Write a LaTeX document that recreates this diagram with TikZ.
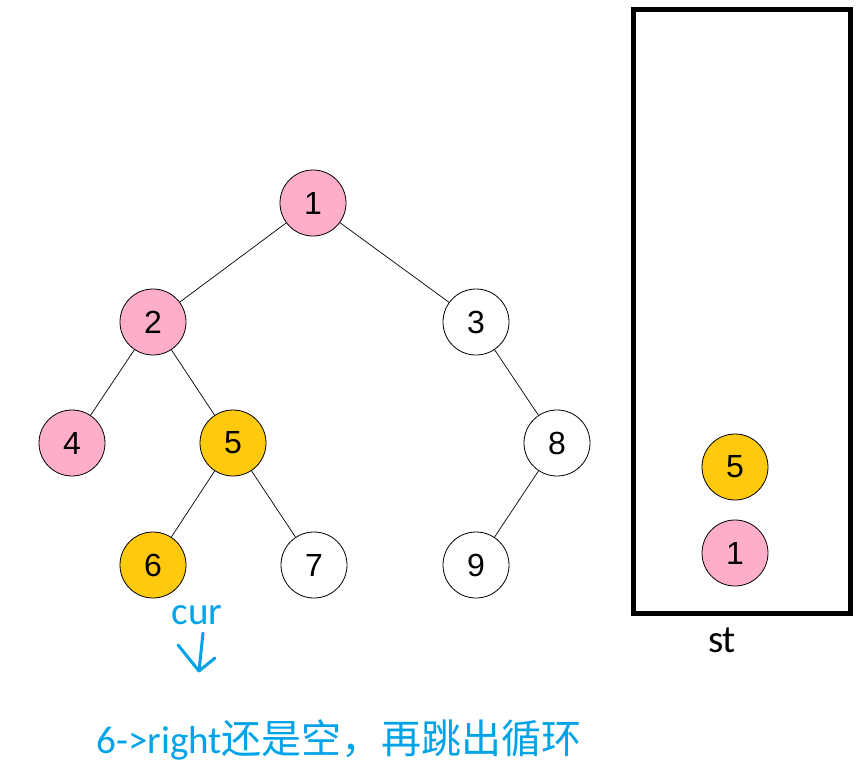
\documentclass[tikz,border=0pt]{standalone}
\usepackage{fontspec}
\setmainfont{Liberation Sans}
\newfontfamily\cali{Carlito}
\newfontfamily\cjk{Noto Sans CJK SC}
\definecolor{pinknode}{RGB}{255,174,201}
\definecolor{goldnode}{RGB}{255,201,14}
\definecolor{noteblue}{RGB}{0,162,232}
\tikzset{
  vertex/.style = {circle, draw, line width=0.8pt, minimum size=66pt, inner sep=0pt,
                   font=\fontsize{32}{32}\selectfont},
  visited/.style = {vertex, fill=pinknode},
  current/.style = {vertex, fill=goldnode},
  fresh/.style = {vertex, fill=white},
  edge/.style = {draw, line width=0.7pt},
  stackbox/.style = {draw, line width=5pt, minimum width=217pt, minimum height=603pt, inner sep=0pt},
  note/.style = {text=noteblue, font=\cali\fontsize{39}{39}\selectfont},
  handpen/.style = {noteblue, line width=3pt, line cap=round, line join=round}
}
\begin{document}
\begin{tikzpicture}[x=1pt, y=-1pt]
  \useasboundingbox (0,0) rectangle (859,768);
  % tree
  \node[visited] (n1) at (313,203) {1};
  \node[visited] (n2) at (153,322) {2};
  \node[fresh]   (n3) at (476,322) {3};
  \node[visited] (n4) at (72,443)  {4};
  \node[current] (n5) at (233,443) {5};
  \node[fresh]   (n8) at (557,443) {8};
  \node[current] (n6) at (153,565) {6};
  \node[fresh]   (n7) at (314,565) {7};
  \node[fresh]   (n9) at (476,565) {9};
  \path[edge] (n1) -- (n2) (n1) -- (n3);
  \path[edge] (n2) -- (n4) (n2) -- (n5);
  \path[edge] (n3) -- (n8);
  \path[edge] (n5) -- (n6) (n5) -- (n7);
  \path[edge] (n8) -- (n9);
  % stack
  \node[stackbox] (st) at (741.5,311.5) {};
  \node[current] (s5) at (735,467) {5};
  \node[visited] (s1) at (735,553) {1};
  \node[font=\cali\fontsize{39}{39}\selectfont] (stname) at (722,640) {st};
  % cur pointer
  \node[note] (cur) at (197,615) {cur};
  \coordinate (tip) at (199,671);
  \draw[handpen] (203,633) -- (tip);
  \draw[handpen] (178,645) -- (tip) -- (215,658);
  \node[note, anchor=west] (msg) at (93,740) {6->right{\cjk\fontsize{40}{40}\selectfont 还是空，再跳出循环}};
\end{tikzpicture}
\end{document}
